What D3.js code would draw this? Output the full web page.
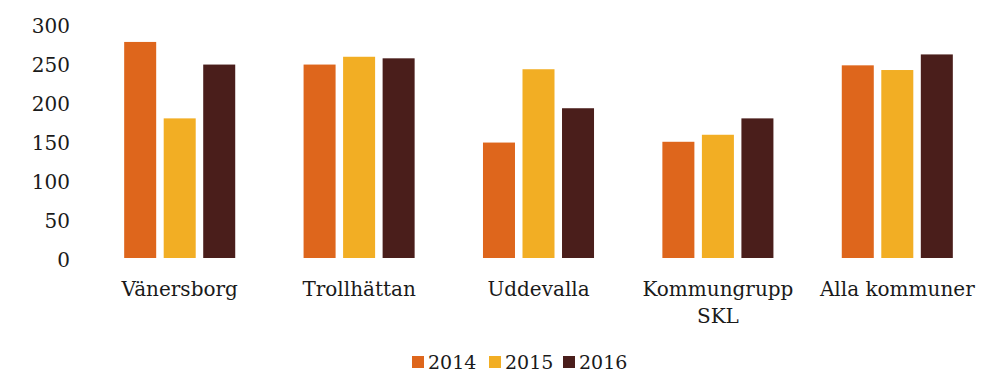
<!DOCTYPE html>
<html><head><meta charset="utf-8">
<script src="https://cdn.jsdelivr.net/npm/d3@7"></script>
<style>body{margin:0;background:#fff}svg{display:block}text{font-family:"DejaVu Serif",Georgia,serif;fill:#1a1a1a}</style>
</head><body>
<svg id="c" width="1002" height="391"></svg>
<script>
const categories = [["Vänersborg"],["Trollhättan"],["Uddevalla"],["Kommungrupp","SKL"],["Alla kommuner"]];
const series = ["2014","2015","2016"];
const v2014 = [277, 248, 148, 149, 247];
const v2015 = [179, 258, 242, 158, 241];
const v2016 = [248, 256, 192, 179, 261];
const yTicks = [0,50,100,150,200,250,300];
const colors = ["#DE661C","#F2AE24","#4A1E1B"];

const values = [v2014, v2015, v2016];
const svg = d3.select("#c");
const names = categories.map(c => c.join(" "));
const x0 = d3.scaleBand().domain(names).range([90, 987]).paddingInner(0.381).paddingOuter(0.1905);
const x1 = d3.scaleBand().domain(series).range([0, x0.bandwidth()]).paddingInner(0.19).paddingOuter(0);
const y = d3.scaleLinear().domain([0,300]).range([258, 24]);

const yAxis = svg.append("g").attr("transform","translate(70,0)")
  .call(d3.axisLeft(y).tickValues(yTicks).tickSize(0).tickPadding(0));
yAxis.select(".domain").remove();
yAxis.selectAll("text").style("font-size","20px").attr("dy","0.42em").style("font-family",'"DejaVu Serif",serif').attr("fill","#1a1a1a");

const g = svg.append("g");
names.forEach((n,i) => {
  series.forEach((s,j) => {
    g.append("rect")
      .attr("x", x0(n) + x1(s))
      .attr("y", y(values[j][i]))
      .attr("width", x1.bandwidth())
      .attr("height", y(0) - y(values[j][i]))
      .attr("fill", colors[j]);
  });
});

const xAxis = svg.append("g").attr("transform","translate(0,258)")
  .call(d3.axisBottom(x0).tickSize(0).tickFormat(""));
xAxis.select(".domain").remove();
xAxis.selectAll(".tick").each(function(d,i){
  const t = d3.select(this).append("text").attr("text-anchor","middle").attr("y",38).style("font-size","20px").attr("fill","#1a1a1a");
  categories[i].forEach((line,k)=>{
    t.append("tspan").attr("x",0).attr("dy", k===0?0:27).text(line);
  });
});

const legendX = [412, 489, 563];
const lg = svg.append("g");
series.forEach((s,j)=>{
  lg.append("rect").attr("x",legendX[j]).attr("y",356).attr("width",12).attr("height",12).attr("fill",colors[j]);
  lg.append("text").attr("x",legendX[j]+16).attr("y",369).style("font-size","19px").text(s);
});
</script>
</body></html>
